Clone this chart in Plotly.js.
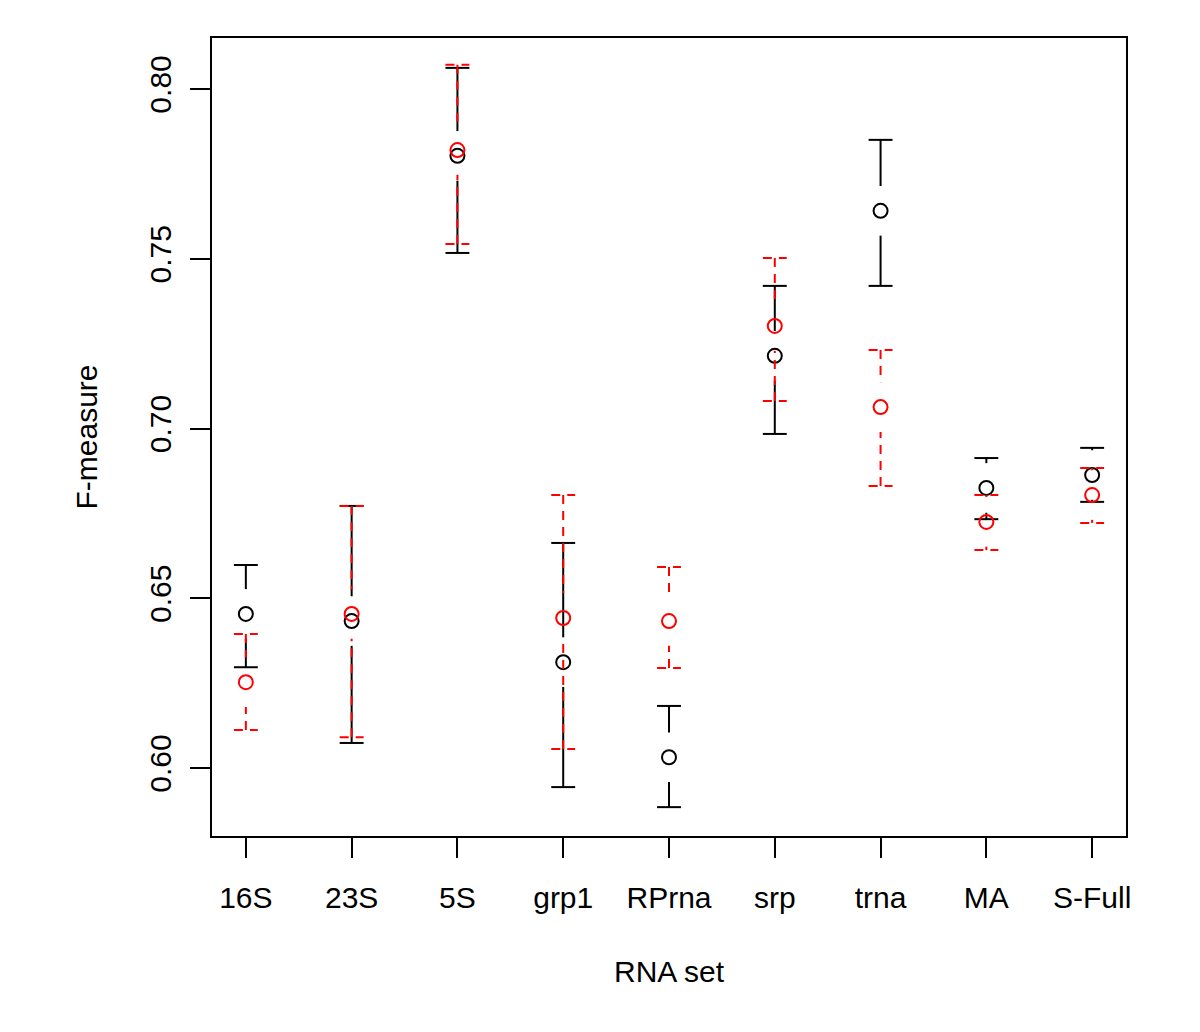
<!DOCTYPE html>
<html>
<head>
<meta charset="utf-8">
<script src="https://cdn.plot.ly/plotly-3.0.1.min.js"></script>
<style>html,body{margin:0;padding:0;background:#fff;}#chart{width:1200px;height:1032px;}</style>
</head>
<body>
<div id="chart"></div>
<script>
// ---- data ----
var categories = ['16S', '23S', '5S', 'grp1', 'RPrna', 'srp', 'trna', 'MA', 'S-Full'];
var blackMean  = [0.6454, 0.6433, 0.7803, 0.6312, 0.6032, 0.7214, 0.7641, 0.6825, 0.6863];
var blackLower = [0.6297, 0.6074, 0.7517, 0.5944, 0.5885, 0.6984, 0.7420, 0.6733, 0.6784];
var blackUpper = [0.6598, 0.6772, 0.8062, 0.6663, 0.6183, 0.7420, 0.7850, 0.6913, 0.6943];
var redMean    = [0.6253, 0.6454, 0.7820, 0.6442, 0.6433, 0.7302, 0.7063, 0.6725, 0.6804];
var redLower   = [0.6112, 0.6091, 0.7543, 0.6056, 0.6295, 0.7081, 0.6831, 0.6642, 0.6722];
var redUpper   = [0.6395, 0.6772, 0.8071, 0.6804, 0.6592, 0.7502, 0.7231, 0.6804, 0.6884];
var yTickVals  = [0.60, 0.65, 0.70, 0.75, 0.80];
var yTickText  = ['0.60', '0.65', '0.70', '0.75', '0.80'];
var xLabel = 'RNA set';
var yLabel = 'F-measure';

// ---- style constants ----
var CAP_HALF = 0.113;   // half cap width in x units
var GAP = 0.0073;       // gap between point and CI line in y units

var xIdx = categories.map(function (c, i) { return i + 1; });

function ciSegments(mean, lower, upper) {
  var xs = [], ys = [];
  for (var i = 0; i < mean.length; i++) {
    var x = xIdx[i];
    if (upper[i] > mean[i] + GAP) { xs.push(x, x, null); ys.push(upper[i], mean[i] + GAP, null); }
    if (lower[i] < mean[i] - GAP) { xs.push(x, x, null); ys.push(lower[i], mean[i] - GAP, null); }
    xs.push(x - CAP_HALF, x + CAP_HALF, null); ys.push(upper[i], upper[i], null);
    xs.push(x - CAP_HALF, x + CAP_HALF, null); ys.push(lower[i], lower[i], null);
  }
  return { x: xs, y: ys };
}

var bSeg = ciSegments(blackMean, blackLower, blackUpper);
var rSeg = ciSegments(redMean, redLower, redUpper);

var traces = [
  { x: bSeg.x, y: bSeg.y, mode: 'lines', line: { color: 'black', width: 2 }, hoverinfo: 'skip', showlegend: false, connectgaps: false },
  { x: xIdx, y: blackMean, mode: 'markers', marker: { symbol: 'circle-open', size: 14, color: 'black', line: { color: 'black', width: 2 } }, showlegend: false },
  { x: rSeg.x, y: rSeg.y, mode: 'lines', line: { color: '#ff0000', width: 2, dash: '9px,7px' }, hoverinfo: 'skip', showlegend: false, connectgaps: false },
  { x: xIdx, y: redMean, mode: 'markers', marker: { symbol: 'circle-open', size: 14, color: '#ff0000', line: { color: '#ff0000', width: 2 } }, showlegend: false }
];

var font = { family: 'Liberation Sans, Arial, Helvetica, sans-serif', size: 30, color: 'black' };

var layout = {
  width: 1200, height: 1032,
  margin: { l: 212, r: 74, t: 38, b: 196 },
  paper_bgcolor: 'white', plot_bgcolor: 'white',
  font: font,
  showlegend: false,
  xaxis: {
    range: [0.68, 9.32], tickmode: 'array', tickvals: xIdx, ticktext: categories,
    ticks: 'outside', ticklen: 20, tickwidth: 2, tickcolor: 'black',
    showline: true, linewidth: 2, linecolor: 'black', mirror: true,
    showgrid: false, zeroline: false, tickfont: font, ticklabelstandoff: 14,
    title: { text: xLabel, font: font, standoff: 48 }, automargin: false
  },
  yaxis: {
    range: [0.58, 0.815], tickmode: 'array', tickvals: yTickVals, ticktext: yTickText,
    tickangle: -90,
    ticks: 'outside', ticklen: 20, tickwidth: 2, tickcolor: 'black',
    showline: true, linewidth: 2, linecolor: 'black', mirror: true,
    showgrid: false, zeroline: false, tickfont: font, ticklabelstandoff: 7,
    title: { text: yLabel, font: font, standoff: 38 }, automargin: false
  }
};

Plotly.newPlot('chart', traces, layout, { staticPlot: true, displayModeBar: false });
</script>
</body>
</html>
